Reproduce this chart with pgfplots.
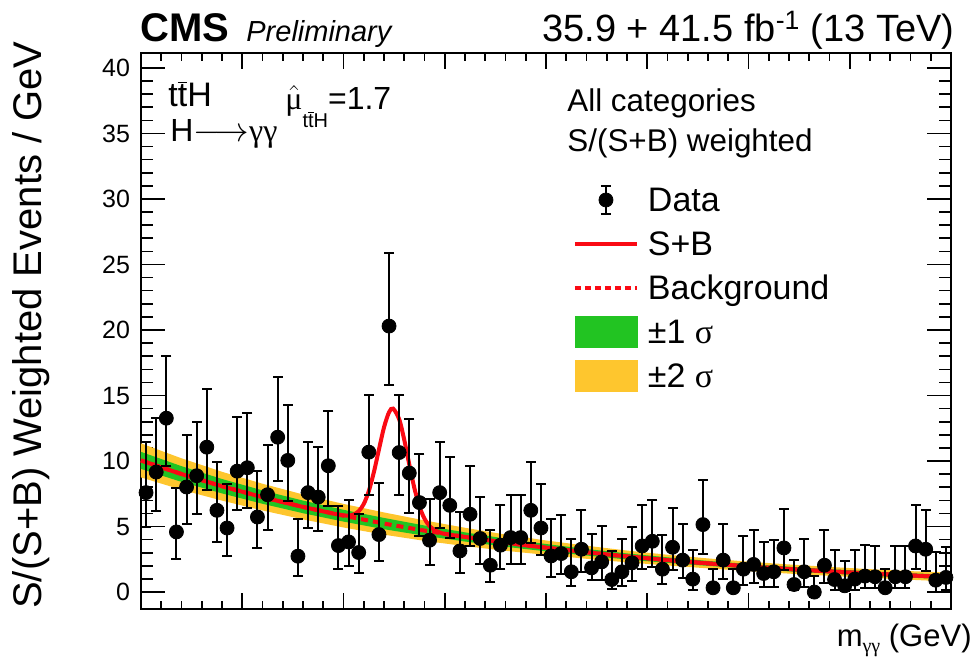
\documentclass[border=0pt]{standalone}
\usepackage{fontspec}
\setmainfont{Liberation Sans}
\newfontfamily\grk{Liberation Serif}
\usepackage{pgfplots}
\pgfplotsset{compat=1.18}
\usepackage{pgfplotstable}
\usepgfplotslibrary{fillbetween}
\definecolor{cmsred}{RGB}{250,10,20}
\definecolor{bandgreen}{RGB}{34,196,34}
\definecolor{bandyellow}{RGB}{254,198,46}
\newcommand{\fs}[1]{\fontsize{#1}{#1}\selectfont}
\newcommand{\tbar}{$\overline{\mbox{t}}$}

\pgfplotstableread{
m y ep em
100.5 7.59 3.85 2.62
101.5 9.16 4.13 2.97
102.5 13.27 4.73 3.61
103.5 4.59 3.35 2.08
104.5 8.02 3.93 2.79
105.5 8.88 4.13 2.89
106.5 11.06 4.44 3.24
107.5 6.24 3.68 2.41
108.5 4.89 3.38 2.13
109.5 9.23 4.16 2.99
110.5 9.49 4.16 3.05
111.5 5.73 3.50 2.33
112.5 7.43 3.83 2.66
113.5 11.82 4.57 3.35
114.5 10.05 4.26 3.10
115.5 2.74 2.87 1.52
116.5 7.59 3.85 2.67
117.5 7.25 3.81 2.61
118.5 9.64 4.21 3.07
119.5 3.55 3.05 1.80
120.5 3.83 3.17 1.85
121.5 3.02 2.97 1.60
122.5 10.68 4.36 3.25
123.5 4.39 3.96 2.03
124.5 20.30 5.60 4.50
125.5 10.65 4.39 3.22
126.5 9.08 4.12 3.04
127.5 6.83 3.72 2.57
128.5 3.96 3.15 1.91
129.5 7.59 3.90 2.70
130.5 6.62 3.68 2.50
131.5 3.14 2.97 1.67
132.5 5.94 3.65 2.40
133.5 4.09 3.16 1.91
134.5 2.05 2.67 1.26
135.5 3.58 3.04 1.85
136.5 4.16 3.22 1.98
137.5 4.16 3.22 1.98
138.5 6.24 3.68 2.49
139.5 4.89 3.38 2.07
140.5 2.76 2.85 1.59
141.5 2.94 2.97 1.59
142.5 1.55 2.48 1.07
143.5 3.27 2.97 1.72
144.5 1.85 2.62 0.94
145.5 2.31 2.71 1.40
146.5 0.96 2.16 0.76
147.5 1.55 2.48 1.07
148.5 2.23 2.74 1.39
149.5 3.52 3.10 1.77
150.5 3.88 3.12 1.95
151.5 1.75 2.59 1.17
152.5 3.42 3.00 1.75
153.5 2.44 2.79 1.40
154.5 0.99 2.21 0.84
155.5 5.15 3.37 2.21
156.5 0.33 1.47 0.30
157.5 2.44 2.79 1.45
158.5 0.33 1.47 0.30
159.5 1.75 2.54 1.22
160.5 2.11 2.61 1.40
161.5 1.42 2.41 1.06
162.5 1.55 2.46 1.14
163.5 3.37 3.00 1.70
164.5 0.58 1.86 0.43
165.5 1.55 2.48 1.14
166.5 0.00 1.20 0.35
167.5 2.05 2.67 1.39
168.5 0.96 2.24 0.81
169.5 0.48 1.88 0.40
170.5 0.99 2.21 0.84
171.5 1.22 2.36 0.94
172.5 1.17 2.33 0.89
173.5 0.33 1.42 0.30
174.5 1.17 2.33 0.89
175.5 1.17 2.33 0.89
176.5 3.52 3.10 1.77
177.5 3.27 3.02 1.67
178.5 0.91 2.16 0.88
179.5 1.12 2.33 0.97
}\datatable

\pgfplotstableread{
m b u1 l1 u2 l2
100 10.05 10.70 9.40 11.35 8.75
104 9.01 9.61 8.41 10.21 7.81
108 8.08 8.63 7.53 9.18 6.98
112 7.25 7.76 6.74 8.27 6.23
116 6.50 6.98 6.02 7.45 5.55
120 5.83 6.28 5.38 6.73 4.93
124 5.23 5.66 4.80 6.08 4.38
128 4.69 5.08 4.30 5.47 3.91
132 4.21 4.56 3.86 4.91 3.51
136 3.77 4.08 3.46 4.39 3.15
140 3.39 3.67 3.11 3.94 2.84
144 3.04 3.29 2.79 3.54 2.54
148 2.72 2.95 2.49 3.17 2.27
152 2.44 2.65 2.23 2.85 2.03
156 2.19 2.38 2.00 2.57 1.81
160 1.96 2.14 1.78 2.32 1.60
164 1.76 1.94 1.58 2.11 1.41
168 1.58 1.75 1.41 1.92 1.24
172 1.42 1.59 1.25 1.75 1.09
176 1.27 1.44 1.10 1.60 0.94
180 1.14 1.31 0.97 1.48 0.80
}\bandtable

\pgfplotstableread{
m sb
100 10.05
102 9.52
104 9.01
106 8.54
108 8.08
110 7.66
112 7.25
114 6.87
116 6.50
118 6.16
119 5.99
120 5.86
120.5 5.84
121 5.92
121.5 6.17
122 6.72
122.5 7.71
123 9.15
123.5 10.88
124 12.57
124.5 13.73
124.9 14.00
125.5 13.19
126 11.62
126.5 9.73
127 7.94
127.5 6.54
128 5.60
128.5 5.04
129 4.73
129.5 4.56
130 4.44
132 4.21
134 3.99
136 3.77
138 3.57
140 3.39
144 3.04
148 2.72
152 2.44
156 2.19
160 1.96
164 1.76
168 1.58
172 1.42
176 1.27
180 1.14
}\sbtable

\begin{document}
\begin{tikzpicture}
\begin{axis}[
  at={(0pt,0pt)}, anchor=south west,
  scale only axis, width=405pt, height=278pt,
  xmin=100, xmax=180, ymin=-1.29, ymax=41.14,
  xtick={100,110,...,180}, xticklabels={},
  minor x tick num=4,
  ytick={0,5,...,40}, minor y tick num=4,
  tick align=inside,
  xtick style={/pgfplots/major tick length=8pt, /pgfplots/minor tick length=4pt},
  ytick style={/pgfplots/major tick length=12pt, /pgfplots/minor tick length=6pt},
  tick style={line width=0.8pt, black},
  axis line style={line width=1pt},
  /pgf/number format/assume math mode=true,
  yticklabel style={font=\fs{12.5}, xshift=-2pt},
  clip=false,
  legend style={at={(rel axis cs:0.5333,0.7752)}, anchor=north west, draw=none, fill=none,
    inner sep=0pt, outer sep=0pt, font=\fs{17}, row sep=0pt, /tikz/column sep=4.5pt,
    nodes={inner sep=0pt, text height=17pt, text depth=5pt}},
  legend cell align=left,
]
\addlegendimage{legend image code/.code={
  \path[draw=none, fill=none] (0pt,0pt) -- (31pt,0pt);
  \draw[black, line width=1pt] (15.5pt,-7pt) -- (15.5pt,7pt);
  \draw[black, line width=1pt] (13pt,-7pt) -- (18pt,-7pt) (13pt,7pt) -- (18pt,7pt);
  \draw[black, mark=*, mark size=3.5pt, only marks] plot coordinates {(15.5pt,0pt)};
}}
\addlegendentry{Data}
\addlegendimage{legend image code/.code={\draw[cmsred, line width=2pt] (0pt,0pt) -- (31pt,0pt);}}
\addlegendentry{S+B}
\addlegendimage{legend image code/.code={\draw[cmsred, line width=2pt, dash pattern=on 3pt off 2pt] (0pt,0pt) -- (31pt,0pt);}}
\addlegendentry{Background}
\addlegendimage{legend image code/.code={\fill[bandgreen] (0pt,-7.75pt) rectangle (31pt,7.75pt);}}
\addlegendentry{±1 {\grk σ}}
\addlegendimage{legend image code/.code={\fill[bandyellow] (0pt,-7.75pt) rectangle (31pt,7.75pt);}}
\addlegendentry{±2 {\grk σ}}

\addplot[name path=y2u, draw=none, forget plot] table[x=m,y=u2]{\bandtable};
\addplot[name path=y2l, draw=none, forget plot] table[x=m,y=l2]{\bandtable};
\addplot[bandyellow, forget plot] fill between[of=y2u and y2l];
\addplot[name path=y1u, draw=none, forget plot] table[x=m,y=u1]{\bandtable};
\addplot[name path=y1l, draw=none, forget plot] table[x=m,y=l1]{\bandtable};
\addplot[bandgreen, forget plot] fill between[of=y1u and y1l];

\addplot[cmsred, line width=2pt, dash pattern=on 3.5pt off 2.5pt, forget plot] table[x=m,y=b]{\bandtable};
\addplot[cmsred, line width=2pt, smooth, forget plot] table[x=m,y=sb]{\sbtable};

\addplot[forget plot, only marks, mark=*, mark size=3.5pt, black,
  error bars/.cd, y dir=both, y explicit, error mark=none,
  error bar style={line width=1pt, black}]
  table[x=m, y=y, y error plus=ep, y error minus=em]{\datatable};
\addplot[forget plot, only marks, mark=-, mark size=2.5pt, black, mark options={line width=1pt}]
  table[x=m, y expr=\thisrow{y}+\thisrow{ep}]{\datatable};
\addplot[forget plot, only marks, mark=-, mark size=2.5pt, black, mark options={line width=1pt}]
  table[x=m, y expr=\thisrow{y}-\thisrow{em}]{\datatable};
\end{axis}

\node[anchor=base west, inner sep=0pt, font=\fs{20}\bfseries] at (-0.5pt,283.5pt) {CMS};
\node[anchor=base west, inner sep=0pt, font=\fs{14.5}\itshape] at (52.5pt,283.5pt) {Preliminary};
\node[anchor=base east, inner sep=0pt, font=\fs{19}] at (407pt,283.5pt) {35.9 + 41.5 fb\textsuperscript{-1} (13 TeV)};
\node[rotate=90, anchor=base east, inner sep=0pt, font=\fs{20}] at (-49.5pt,284pt) {S/(S+B) Weighted Events / GeV};
\node[anchor=base east, inner sep=0pt, font=\fs{15.5}] at (415.5pt,-19pt) {m\raisebox{-3pt}{\fs{10}\grk γγ} (GeV)};
\node[anchor=base west, inner sep=0pt, font=\fs{17}] at (13.5pt,251pt) {t\tbar H};
\node[anchor=base west, inner sep=0pt, font=\fs{16}] at (14.5pt,233.5pt) {H$\longrightarrow${\grk γγ}};
\node[anchor=base west, inner sep=0pt, font=\fs{16}] at (72pt,249.5pt) {{\grk$\hat{\mbox{μ}}$}\raisebox{-9pt}{\fs{10}t\tbar H}=1.7};
\node[anchor=base west, inner sep=0pt, font=\fs{15.7}] at (213pt,248.5pt) {All categories};
\node[anchor=base west, inner sep=0pt, font=\fs{15.7}] at (213pt,228.5pt) {S/(S+B) weighted};

\pgfresetboundingbox
\path[use as bounding box] (-70.5pt,-27.5pt) rectangle (417.5pt,304.5pt);
\end{tikzpicture}
\end{document}
